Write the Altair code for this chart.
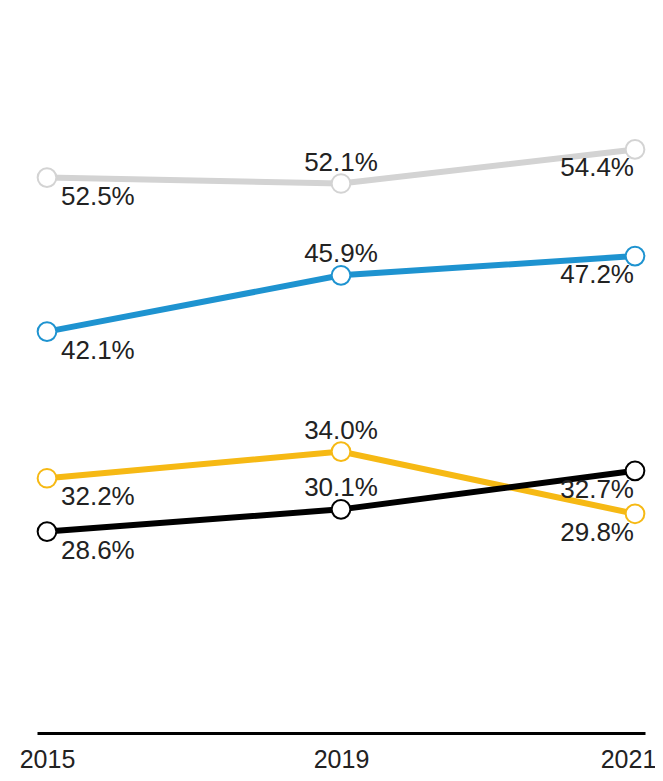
import altair as alt
import pandas as pd

years = ["2015", "2019", "2021"]
series = ["A", "B", "C", "D"]
colors = ["#d3d3d3", "#1e93d0", "#f6b914", "#000000"]
values_a = [52.5, 52.1, 54.4]
values_b = [42.1, 45.9, 47.2]
values_c = [32.2, 34.0, 29.8]
values_d = [28.6, 30.1, 32.7]

rows = []
for s, vals in zip(series, [values_a, values_b, values_c, values_d]):
    for y, v in zip(years, vals):
        rows.append({"year": y, "series": s, "value": v, "label": f"{v:.1f}%"})
df = pd.DataFrame(rows)

FONT = "Liberation Sans"
FS = 26

x = alt.X("year:O", scale=alt.Scale(type="point", padding=0.034),
          axis=alt.Axis(title=None, labelAngle=0, labelFontSize=25, labelFont=FONT,
                        labelColor="#222222", ticks=False, domainColor="#000000",
                        domainWidth=3, labelPadding=14, grid=False,
                        labelOffset={"condition": {"test": "datum.value == '2021'", "value": -7},
                                     "value": 0}))
y = alt.Y("value:Q", scale=alt.Scale(domain=[15, 63.95], nice=False, zero=False), axis=None)
stroke = alt.Stroke("series:N", scale=alt.Scale(domain=series, range=colors), legend=None)

base = alt.Chart(df)

lines = base.mark_line(strokeWidth=6).encode(x=x, y=y, stroke=stroke, detail="series:N")
points = base.mark_point(shape="circle", size=350, fill="white", fillOpacity=1,
                         strokeWidth=2, opacity=1).encode(x=x, y=y, stroke=stroke)

t1 = base.transform_filter(alt.datum.year == "2015").mark_text(
    align="left", baseline="alphabetic", dx=14, dy=27, fontSize=FS, font=FONT,
    color="#222222").encode(x=x, y=y, text="label:N")
t2 = base.transform_filter(alt.datum.year == "2019").mark_text(
    align="center", baseline="alphabetic", dy=-13, fontSize=FS, font=FONT,
    color="#222222").encode(x=x, y=y, text="label:N")
t3 = base.transform_filter(alt.datum.year == "2021").mark_text(
    align="right", baseline="alphabetic", dx=-1, dy=27, fontSize=FS, font=FONT,
    color="#222222").encode(x=x, y=y, text="label:N")

chart = alt.layer(lines, points, t1, t2, t3).properties(
    width=608, height=725,
    autosize=alt.AutoSizeParams(type="none"),
    padding={"left": 29, "top": 0, "right": 10, "bottom": 40},
).configure_view(stroke=None)

chart.save("out.html", embed_options={"renderer": "svg", "actions": False})
